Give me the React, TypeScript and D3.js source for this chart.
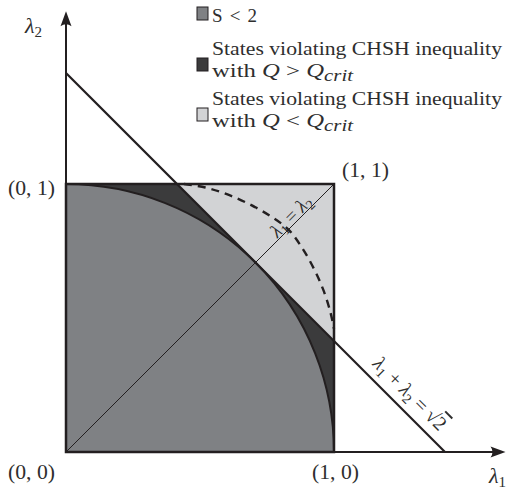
import * as d3 from "d3";

const W = 516;
const H = 489;

// plot geometry (unit square in λ1, λ2 space)
const X0 = 66;
const Y0 = 452;
const UNIT = 268;

const X_MAX = 1.64; // arrow tip of λ1 axis
const Y_MAX = 1.645; // arrow tip of λ2 axis
const LINE_SUM = Math.SQRT2; // λ1 + λ2 = √2
const CIRCLE_R = 1; // S < 2 region : λ1² + λ2² < 1

// dashed boundary
const DASHED: [number, number][] = [
  [0.44, 1.0],
  [0.52, 0.987],
  [0.6, 0.962],
  [0.68, 0.927],
  [0.76, 0.882],
  [0.83, 0.83],
  [0.882, 0.76],
  [0.927, 0.68],
  [0.962, 0.6],
  [0.987, 0.52],
  [1.0, 0.46],
];

const CORNERS = [
  { x: 0, y: 1, text: "(0, 1)", dx: -58, dy: 11 },
  { x: 0, y: 0, text: "(0, 0)", dx: -58, dy: 27 },
  { x: 1, y: 0, text: "(1, 0)", dx: -22, dy: 27 },
  { x: 1, y: 1, text: "(1, 1)", dx: 8, dy: -7 },
];

const COL_S = "#7f8184";
const COL_DARK = "#3b3b3c";
const COL_LIGHT = "#d2d3d5";
const INK = "#231f20";
const TXT = "#2e2e2e";

const LEGEND = [
  { color: COL_S, y: 7, lines: ["S < 2"] },
  { color: COL_DARK, y: 58, lines: ["States violating CHSH inequality", ">"] },
  { color: COL_LIGHT, y: 108, lines: ["States violating CHSH inequality", "<"] },
];

export default function App() {
  const x = d3.scaleLinear().domain([0, 1]).range([X0, X0 + UNIT]);
  const y = d3.scaleLinear().domain([0, 1]).range([Y0, Y0 - UNIT]);

  const r = x(CIRCLE_R) - x(0);
  const quarter = `M${x(0)},${y(0)}L${x(CIRCLE_R)},${y(0)}A${r},${r} 0 0 0 ${x(0)},${y(CIRCLE_R)}Z`;
  const arcOnly = `M${x(CIRCLE_R)},${y(0)}A${r},${r} 0 0 0 ${x(0)},${y(CIRCLE_R)}`;
  const tri = `M${x(LINE_SUM - 1)},${y(1)}L${x(1)},${y(1)}L${x(1)},${y(LINE_SUM - 1)}Z`;

  const dashed = d3
    .line<[number, number]>()
    .x((d) => x(d[0]))
    .y((d) => y(d[1]))
    .curve(d3.curveCatmullRom.alpha(0.5))(DASHED)!;

  const xTip = x(X_MAX);
  const yTip = y(Y_MAX);

  // anchor points of the rotated labels (data coords)
  const diagAt = 0.86;
  const sumAt = 1.24;

  return (
    <svg
      width={W}
      height={H}
      style={{ position: "absolute", left: 0, top: 0, background: "#fff" }}
      fontFamily="'Liberation Serif', 'Times New Roman', serif"
      fill={INK}
    >
      {/* regions */}
      <rect x={x(0)} y={y(1)} width={x(1) - x(0)} height={y(0) - y(1)} fill={COL_DARK} />
      <path d={tri} fill={COL_LIGHT} />
      <path d={quarter} fill={COL_S} />
      <path d={arcOnly} fill="none" stroke={INK} strokeWidth={2} />

      {/* dashed curve */}
      <path d={dashed} fill="none" stroke={INK} strokeWidth={2.4} strokeDasharray="8 6" />

      {/* diagonal λ1 = λ2 */}
      <line x1={x(0)} y1={y(0)} x2={x(1)} y2={y(1)} stroke={INK} strokeWidth={1} />

      {/* square outline */}
      <rect
        x={x(0)}
        y={y(1)}
        width={x(1) - x(0)}
        height={y(0) - y(1)}
        fill="none"
        stroke={INK}
        strokeWidth={2.5}
      />

      {/* line λ1 + λ2 = √2 */}
      <line x1={x(0)} y1={y(LINE_SUM)} x2={x(LINE_SUM)} y2={y(0)} stroke={INK} strokeWidth={2.2} />

      {/* axes */}
      <line x1={x(0)} y1={y(0)} x2={xTip - 4} y2={y(0)} stroke={INK} strokeWidth={2} />
      <line x1={x(0)} y1={y(0)} x2={x(0)} y2={yTip + 4} stroke={INK} strokeWidth={2} />
      <path
        d={`M${xTip},${y(0)}L${xTip - 15},${y(0) - 5.5}Q${xTip - 11},${y(0)} ${xTip - 15},${y(0) + 5.5}Z`}
        fill={INK}
      />
      <path
        d={`M${x(0)},${yTip}L${x(0) - 5.5},${yTip + 15}Q${x(0)},${yTip + 11} ${x(0) + 5.5},${yTip + 15}Z`}
        fill={INK}
      />

      {/* axis titles */}
      <text x={489} y={483} fontSize={22} fontStyle="italic" fill={TXT}>
        λ<tspan fontSize={15} fontStyle="normal" dy={4}>1</tspan>
      </text>
      <text x={25} y={33} fontSize={22} fontStyle="italic" fill={TXT}>
        λ<tspan fontSize={15} fontStyle="normal" dy={4}>2</tspan>
      </text>

      {/* corner labels */}
      {CORNERS.map((c) => (
        <text
          key={c.text}
          x={x(c.x) + c.dx}
          y={y(c.y) + c.dy}
          fontSize={20}
          fill={TXT}
          textLength={47}
          lengthAdjust="spacingAndGlyphs"
        >
          {c.text}
        </text>
      ))}

      {/* λ1 = λ2 label */}
      <text
        transform={`translate(${x(diagAt) - 1},${y(diagAt) - 1}) rotate(-45)`}
        fontSize={19}
        textAnchor="middle"
        fill={TXT}
      >
        <tspan fontStyle="italic">λ</tspan>
        <tspan fontSize={14} dy={4}>1</tspan>
        <tspan dy={-4}> = </tspan>
        <tspan fontStyle="italic">λ</tspan>
        <tspan fontSize={14} dy={4}>2</tspan>
      </text>

      {/* λ1 + λ2 = √2 label */}
      <text
        transform={`translate(${x(sumAt) + 7},${y(LINE_SUM - sumAt) - 7}) rotate(45)`}
        fontSize={20}
        textAnchor="middle"
        fill={TXT}
      >
        <tspan fontStyle="italic">λ</tspan>
        <tspan fontSize={14} dy={4}>1</tspan>
        <tspan dy={-4}> + </tspan>
        <tspan fontStyle="italic">λ</tspan>
        <tspan fontSize={14} dy={4}>2</tspan>
        <tspan dy={-4}> = √</tspan>
        <tspan textDecoration="overline">2</tspan>
      </text>

      {/* legend */}
      {LEGEND.map((l, i) => (
        <g key={i}>
          <rect x={197} y={l.y} width={11} height={13} fill={l.color} stroke={INK} strokeWidth={1} />
          {l.lines.length === 1 ? (
            <text
              x={212}
              y={l.y + 15}
              fontSize={19}
              fill={TXT}
              textLength={45}
              lengthAdjust="spacing"
            >
              S &lt; 2
            </text>
          ) : (
            <>
              <text
                x={212}
                y={l.y - 3}
                fontSize={19}
                fill={TXT}
                textLength={290}
                lengthAdjust="spacingAndGlyphs"
              >
                {l.lines[0]}
              </text>
              <text
                x={212}
                y={l.y + 19}
                fontSize={19}
                fill={TXT}
                textLength={141}
                lengthAdjust="spacingAndGlyphs"
              >
                with <tspan fontStyle="italic">Q</tspan> {l.lines[1]}{" "}
                <tspan fontStyle="italic">Q</tspan>
                <tspan fontStyle="italic" fontSize={16} dy={4}>
                  crit
                </tspan>
              </text>
            </>
          )}
        </g>
      ))}
    </svg>
  );
}
